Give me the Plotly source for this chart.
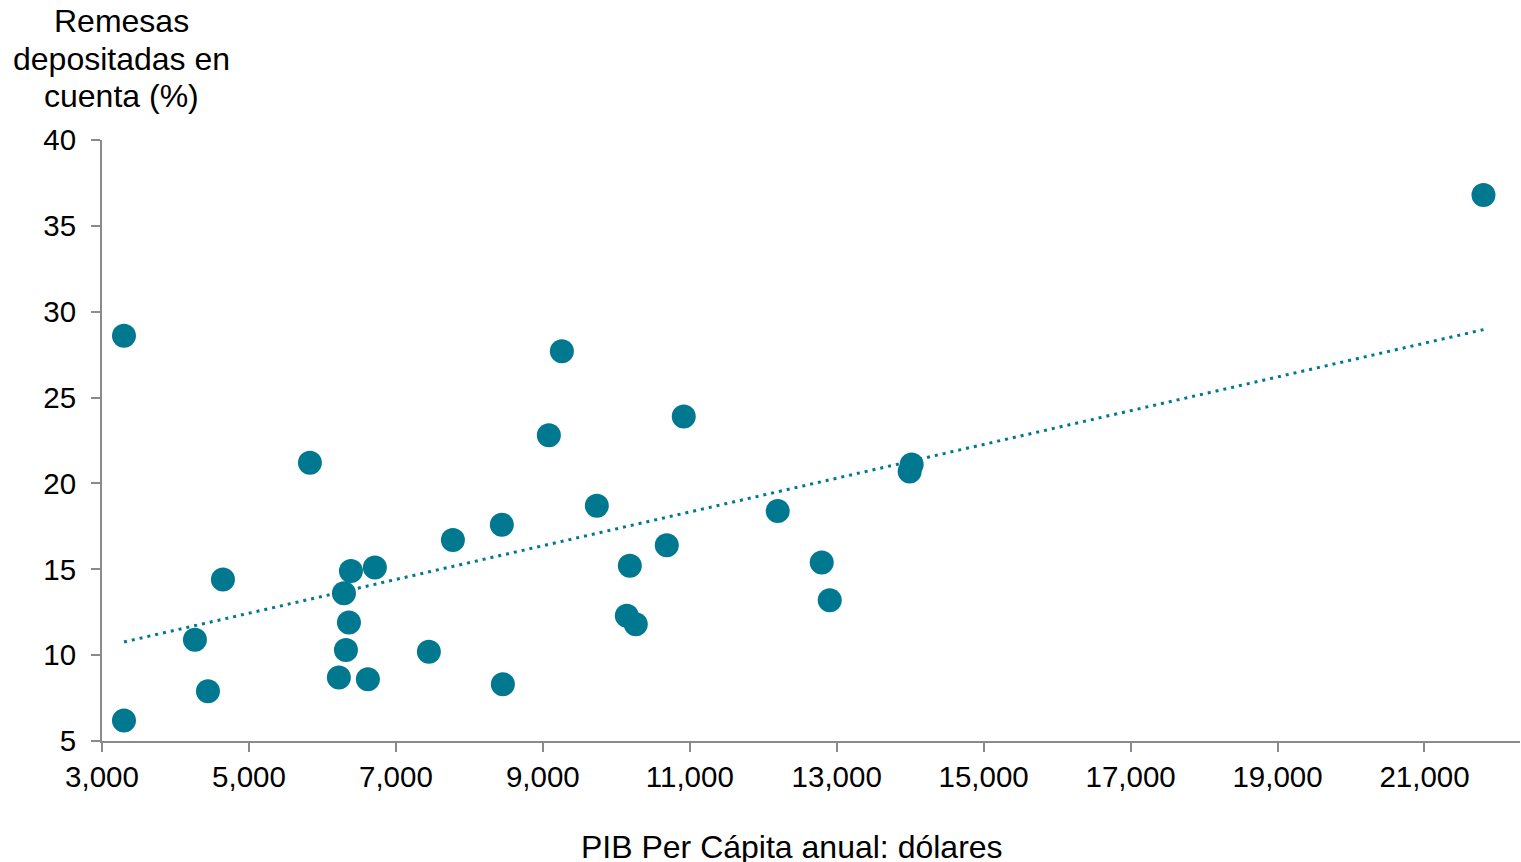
import plotly.graph_objects as go
import numpy as np

# PIB per cápita anual (dólares) y remesas depositadas en cuenta (%)
pib = [3299, 3299, 4265, 4442, 4646, 5830, 6224, 6293, 6320, 6361, 6388,
       6619, 6714, 7449, 7776, 8442, 8456, 9082, 9259, 9735, 10143, 10184,
       10265, 10687, 10918, 12197, 12796, 12905, 13993, 14020, 21803]
remesas = [28.6, 6.2, 10.9, 7.9, 14.4, 21.2, 8.7, 13.6, 10.3, 11.9, 14.9,
           8.6, 15.1, 10.2, 16.7, 17.6, 8.3, 22.8, 27.7, 18.7, 12.3, 15.2,
           11.8, 16.4, 23.9, 18.4, 15.4, 13.2, 20.7, 21.1, 36.8]
x_ticks = [3000, 5000, 7000, 9000, 11000, 13000, 15000, 17000, 19000, 21000]
y_ticks = [5, 10, 15, 20, 25, 30, 35, 40]
y_title = ["Remesas", "depositadas en", "cuenta (%)"]

color = "#007890"
font = "Liberation Sans, Arial, sans-serif"

# tendencia lineal (como en Excel)
m, b = np.polyfit(pib, remesas, 1)
tx = [min(pib), max(pib)]
ty = [m * v + b for v in tx]

fig = go.Figure()
fig.add_trace(go.Scatter(x=tx, y=ty, mode="lines",
                         line=dict(color=color, width=3, dash="3px,5px"),
                         hoverinfo="skip", showlegend=False))
fig.add_trace(go.Scatter(x=pib, y=remesas, mode="markers",
                         marker=dict(color=color, size=24, line=dict(width=0)),
                         cliponaxis=False, showlegend=False))

axis_common = dict(showgrid=False, zeroline=False, showline=True,
                   linecolor="#8a8a8a", linewidth=2, ticks="outside",
                   ticklen=9, tickwidth=2, tickcolor="#8a8a8a",
                   tickfont=dict(family=font, size=29.5, color="black"))
fig.update_xaxes(range=[3000, 22300], tickvals=x_ticks, tickformat=",",
                 ticklabelstandoff=0, **axis_common)
fig.update_yaxes(range=[5, 40], tickvals=y_ticks, ticklabelstandoff=9,
                 **axis_common)

annots = []
for i, line in enumerate(y_title):
    annots.append(dict(text=line, xref="paper", yref="paper",
                       x=0.0134, y=1.198 - i * 0.0624, xanchor="center",
                       yanchor="middle", showarrow=False,
                       font=dict(family=font, size=32, color="black")))
annots.append(dict(text="PIB Per Cápita anual: dólares", xref="paper", yref="paper",
                   x=0.4866, y=-0.1764, xanchor="center", yanchor="middle",
                   showarrow=False, font=dict(family=font, size=32, color="black")))

fig.update_layout(
    width=1521, height=862,
    margin=dict(l=102, r=1, t=140, b=121),
    plot_bgcolor="white", paper_bgcolor="white",
    font=dict(family=font, size=29.5, color="black"),
    annotations=annots,
)

fig.write_html("out.html", config={"displayModeBar": False},
               post_script="document.body.style.margin='0';document.body.style.overflow='hidden';")
